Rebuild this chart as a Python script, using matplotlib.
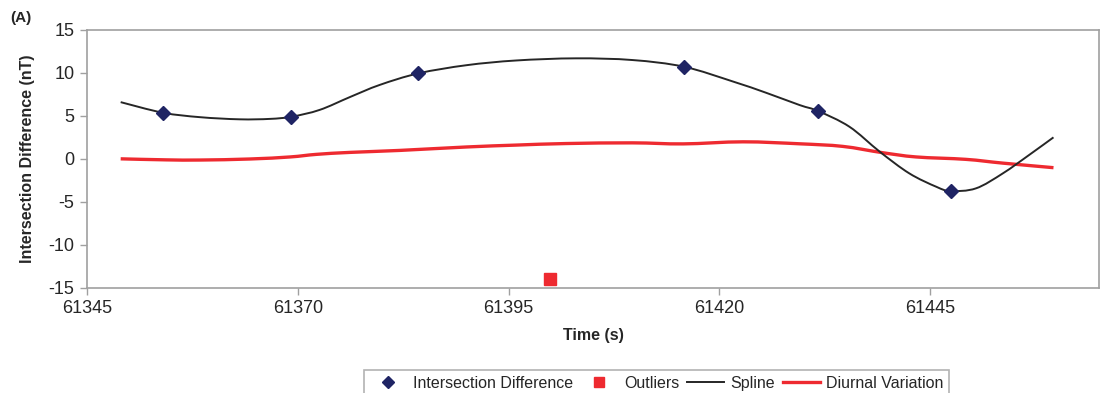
import matplotlib; matplotlib.use("Agg")
import matplotlib.pyplot as plt
from matplotlib.lines import Line2D
from matplotlib.path import Path
from matplotlib.patches import PathPatch

plt.rcParams.update({"font.family": ["Liberation Sans", "DejaVu Sans"], "font.size": 12,
                     "axes.unicode_minus": False})
AX_C = "#a0a0a0"; TXT_C = "#262626"; NAVY = "#1f2464"; RED = "#ee2a30"; SPL_C = "#262626"

# intersection differences (diamonds)
pt_t = [61354.0, 61369.25, 61384.3, 61415.8, 61431.7, 61447.4]
pt_v = [5.37, 4.9, 9.95, 10.72, 5.56, -3.75]

# outlier
out_t = [61399.9]
out_v = [-14.0]

# spline curve
spl_t = [61349.0, 61354.0, 61358.4, 61363.1, 61366.7, 61369.25, 61372.6, 61376.2, 61379.7,
         61384.3, 61390.0, 61395.9, 61403.0, 61409.7, 61415.8, 61421.6, 61425.5,
         61429.5, 61431.7, 61435.4, 61439.0, 61442.5, 61445.7, 61447.4, 61450.4, 61453.6,
         61456.7, 61459.6]
spl_v = [6.6, 5.37, 4.85, 4.6, 4.65, 4.9, 5.7, 7.2, 8.6,
         9.95, 10.9, 11.45, 11.7, 11.5, 10.72, 9.0, 7.7,
         6.26, 5.56, 3.74, 0.83, -1.69, -3.25, -3.75, -3.44, -1.69,
         0.44, 2.5]

# diurnal variation
diu_t = [61349.0, 61354.4, 61358.4, 61364.3, 61369.1, 61372.2, 61376.2, 61382.1, 61390.0,
         61395.9, 61401.8, 61409.7, 61415.7, 61422.8, 61429.5, 61434.6, 61439.3, 61443.3,
         61449.2, 61453.6, 61459.6]
diu_v = [0.0, -0.12, -0.14, -0.02, 0.22, 0.52, 0.75, 0.98, 1.38,
         1.6, 1.78, 1.86, 1.74, 1.98, 1.75, 1.45, 0.72, 0.22,
         -0.06, -0.5, -1.03]

xticks = [61345, 61370, 61395, 61420, 61445]
yticks = [-15, -10, -5, 0, 5, 10, 15]


def smooth_path(xs, ys):
    # Bezier path through the points (Excel-style smoothed line)
    verts = [(xs[0], ys[0])]; codes = [Path.MOVETO]
    n = len(xs)
    for i in range(n - 1):
        x0, y0 = (xs[i - 1], ys[i - 1]) if i > 0 else (xs[i], ys[i])
        x1, y1 = xs[i], ys[i]
        x2, y2 = xs[i + 1], ys[i + 1]
        x3, y3 = (xs[i + 2], ys[i + 2]) if i + 2 < n else (x2, y2)
        c1 = (x1 + (x2 - x0) / 6, y1 + (y2 - y0) / 6)
        c2 = (x2 - (x3 - x1) / 6, y2 - (y3 - y1) / 6)
        verts += [c1, c2, (x2, y2)]; codes += [Path.CURVE4] * 3
    return Path(verts, codes)


fig = plt.figure(figsize=(11.02, 3.93), dpi=100)
ax = fig.add_axes([0.0789, 0.268, 0.9184, 0.6557])

ax.add_patch(PathPatch(smooth_path(diu_t, diu_v), fc="none", ec=RED, lw=2.4, zorder=2))
ax.add_patch(PathPatch(smooth_path(spl_t, spl_v), fc="none", ec=SPL_C, lw=1.4, zorder=3))
ax.plot(pt_t, pt_v, "D", color=NAVY, ms=7, ls="none", zorder=4)
ax.plot(out_t, out_v, "s", color=RED, ms=8, ls="none", zorder=4, clip_on=False)

ax.set_xlim(61345, 61465); ax.set_ylim(-15, 15)
ax.set_xticks(xticks); ax.set_yticks(yticks)
ax.tick_params(direction="out", length=5, width=1, color=AX_C, labelcolor=TXT_C, labelsize=13, pad=4)
for s in ax.spines.values():
    s.set_color(AX_C); s.set_linewidth(1.2)

ax.set_xlabel("Time (s)", fontsize=11.5, fontweight="bold", color=TXT_C, labelpad=8)
ax.set_ylabel("Intersection Difference (nT)", fontsize=11.5, fontweight="bold", color=TXT_C, labelpad=10)
fig.text(0.009, 0.945, "(A)", fontsize=11, fontweight="bold", color=TXT_C)

handles = [Line2D([], [], marker="D", color=NAVY, ls="none", ms=6),
           Line2D([], [], marker="s", color=RED, ls="none", ms=7),
           Line2D([], [], color=SPL_C, lw=1.4),
           Line2D([], [], color=RED, lw=2.4)]
labels = ["Intersection Difference", "Outliers", "Spline", "Diurnal Variation"]
leg = fig.legend(handles, labels, loc="upper left", bbox_to_anchor=(364 / 1102, 1 - 370 / 393),
                 ncol=4, fontsize=11.5, frameon=True, fancybox=False, edgecolor=AX_C,
                 handlelength=2.3, handletextpad=0.4, columnspacing=0.5, borderpad=0.35,
                 borderaxespad=0, labelcolor=TXT_C)
leg.get_frame().set_linewidth(1.2)

fig.savefig("out.png", dpi=100)
